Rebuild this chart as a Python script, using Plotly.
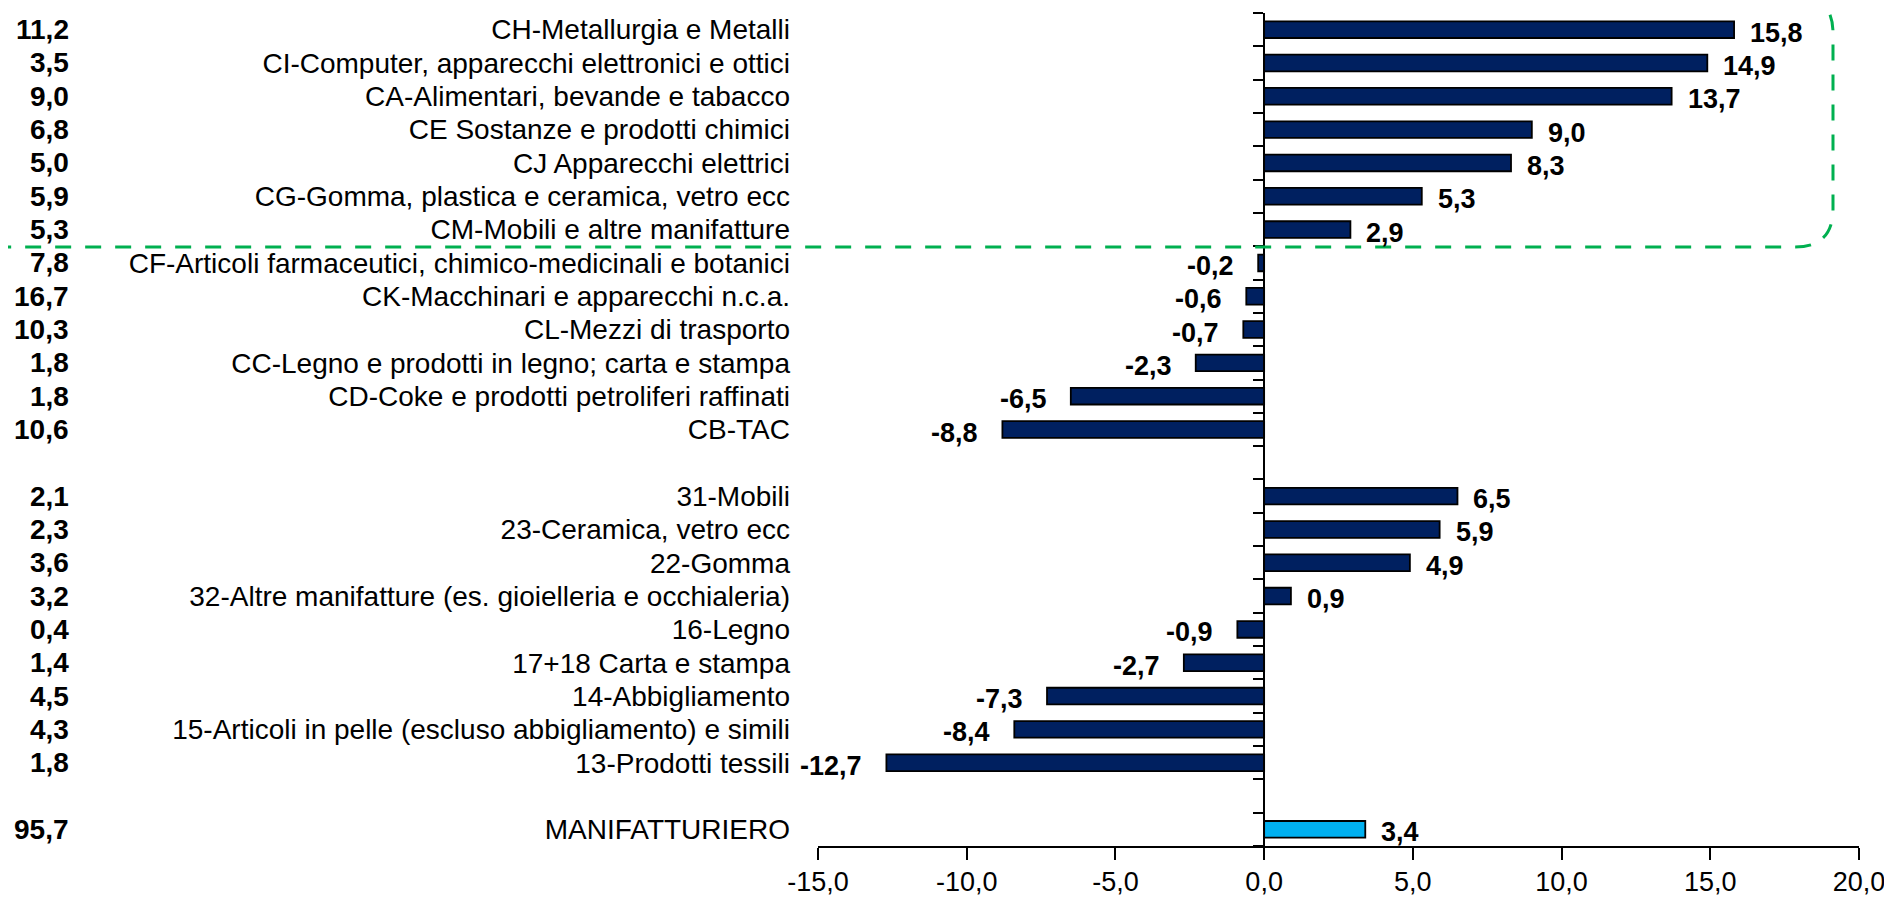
import plotly.graph_objects as go

categories = [
    "CH-Metallurgia e Metalli",
    "CI-Computer, apparecchi elettronici e ottici",
    "CA-Alimentari, bevande e tabacco",
    "CE Sostanze e prodotti chimici",
    "CJ Apparecchi elettrici",
    "CG-Gomma, plastica e ceramica, vetro ecc",
    "CM-Mobili e altre manifatture",
    "CF-Articoli farmaceutici, chimico-medicinali e botanici",
    "CK-Macchinari e apparecchi n.c.a.",
    "CL-Mezzi di trasporto",
    "CC-Legno e prodotti in legno; carta e stampa",
    "CD-Coke e prodotti petroliferi raffinati",
    "CB-TAC",
    " ",
    "31-Mobili",
    "23-Ceramica, vetro ecc",
    "22-Gomma",
    "32-Altre manifatture (es. gioielleria e occhialeria)",
    "16-Legno",
    "17+18 Carta e stampa",
    "14-Abbigliamento",
    "15-Articoli in pelle (escluso abbigliamento) e simili",
    "13-Prodotti tessili",
    "  ",
    "MANIFATTURIERO",
]
values = [15.8, 14.9, 13.7, 9.0, 8.3, 5.3, 2.9, -0.2, -0.6, -0.7, -2.3, -6.5, -8.8,
          None,
          6.5, 5.9, 4.9, 0.9, -0.9, -2.7, -7.3, -8.4, -12.7,
          None,
          3.4]
weights = [11.2, 3.5, 9.0, 6.8, 5.0, 5.9, 5.3, 7.8, 16.7, 10.3, 1.8, 1.8, 10.6,
           None,
           2.1, 2.3, 3.6, 3.2, 0.4, 1.4, 4.5, 4.3, 1.8,
           None,
           95.7]
x_ticks = [-15, -10, -5, 0, 5, 10, 15, 20]

# page has an 8px body margin: figure is drawn 8px right/down of the window corner
OFF = 8
W, H = 1892 - 2 * OFF, 908 - 2 * OFF
ML, MT = 818 - OFF, 13 - OFF
MR = W - (1859 - OFF)
MB = H - (846 - OFF)
PW, PH = W - ML - MR, H - MT - MB

FONT = "Liberation Sans, Arial, sans-serif"
NAVY = "#002060"
LIGHT = "#00B0F0"
GREEN = "#00B050"


def fmt(v):
    return f"{v:.1f}".replace(".", ",")


colors = [LIGHT if c == "MANIFATTURIERO" else NAVY for c in categories]

fig = go.Figure()
fig.add_trace(go.Bar(
    y=categories, x=values, orientation="h",
    marker=dict(color=colors, line=dict(color="black", width=1.8)),
    width=0.5, hoverinfo="skip",
))
# helper trace for the zero axis (y2)
fig.add_trace(go.Scatter(x=[0], y=[0], yaxis="y2", mode="markers",
                         marker=dict(opacity=0), hoverinfo="skip", showlegend=False))

annotations = []
for c, v, w in zip(categories, values, weights):
    if v is None:
        continue
    annotations.append(dict(
        x=v, y=c, xref="x", yref="y", text=f"<b>{fmt(v)}</b>",
        showarrow=False, xanchor="left" if v >= 0 else "right",
        xshift=14 if v >= 0 else -22, yshift=-3,
        font=dict(family=FONT, size=27, color="black"),
    ))
    annotations.append(dict(
        x=0, y=c, xref="paper", yref="y", text=f"<b>{fmt(w)}</b>",
        showarrow=False, xanchor="right", xshift=(71 - OFF) - ML,
        font=dict(family=FONT, size=28, color="black"),
    ))


def P(px, py):
    # page pixel -> paper coordinates
    fx, fy = px - OFF, py - OFF
    x = (fx - ML) / PW
    y = 1 - (fy - MT) / PH
    return f"{x:.5f},{y:.5f}"


# rounded dashed rectangle
left, right, top, bottom, r = -30, 1833, -5, 247, 38
path = (
    f"M {P(left + r, top)} L {P(right - r, top)} Q {P(right, top)} {P(right, top + r)} "
    f"L {P(right, bottom - r)} Q {P(right, bottom)} {P(right - r, bottom)} "
    f"L {P(left + r, bottom)} Q {P(left, bottom)} {P(left, bottom - r)} "
    f"L {P(left, top + r)} Q {P(left, top)} {P(left + r, top)} Z"
)

fig.update_layout(
    width=W, height=H,
    margin=dict(l=ML, r=MR, t=MT, b=MB, autoexpand=False),
    plot_bgcolor="white", paper_bgcolor="white",
    showlegend=False, bargap=0.5,
    font=dict(family=FONT, size=28, color="black"),
    xaxis=dict(
        range=[-15, 20], tickvals=x_ticks, ticktext=[fmt(t) for t in x_ticks],
        showgrid=False, zeroline=False, showline=True, linecolor="black", linewidth=2,
        ticks="outside", ticklen=12, tickwidth=2, tickcolor="black",
        tickfont=dict(family=FONT, size=27, color="black"),
        ticklabelstandoff=-1, ticklabeloverflow="allow",
    ),
    yaxis=dict(
        categoryorder="array", categoryarray=categories,
        tickmode="array", tickvals=categories, ticktext=categories,
        range=[len(categories) - 0.5, -0.5],
        showgrid=False, zeroline=False, showline=False, ticks="",
        tickfont=dict(family=FONT, size=28, color="black"),
        ticklabelstandoff=27,
    ),
    yaxis2=dict(
        overlaying="y", anchor="free", position=15 / 35, side="left",
        range=[len(categories) - 0.5, -0.5],
        tickvals=[k - 0.5 for k in range(len(categories) + 1)],
        showticklabels=False, showgrid=False, zeroline=False,
        showline=True, linecolor="black", linewidth=2,
        ticks="outside", ticklen=10, tickwidth=2, tickcolor="black",
    ),
    annotations=annotations,
    shapes=[dict(type="path", path=path, xref="paper", yref="paper",
                 line=dict(color=GREEN, width=3, dash="16px,14px"),
                 fillcolor="rgba(0,0,0,0)")],
)

fig.write_html("out.html")
